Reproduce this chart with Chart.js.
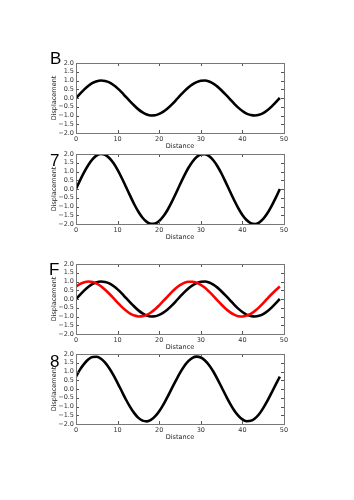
<!DOCTYPE html>
<html>
<head>
<meta charset="utf-8">
<script src="https://cdn.jsdelivr.net/npm/chart.js@4.4.0/dist/chart.umd.min.js"></script>
<style>
  html, body { margin: 0; padding: 0; background: #fff; }
  body { width: 354px; height: 500px; position: relative; overflow: hidden; }
  .panel { position: absolute; left: 0; width: 354px; }
  .letter { position: absolute; font-family: "Liberation Sans", Arial, sans-serif; font-size: 17px; color: #000; line-height: 1; }
</style>
</head>
<body>
<div class="panel" id="p1"><canvas id="c1"></canvas></div>
<div class="panel" id="p2"><canvas id="c2"></canvas></div>
<div class="panel" id="p3"><canvas id="c3"></canvas></div>
<div class="panel" id="p4"><canvas id="c4"></canvas></div>
<div class="letter" style="left:50px;top:50px;">B</div>
<div class="letter" style="left:50px;top:152px;">7</div>
<div class="letter" style="left:49px;top:261px;">F</div>
<div class="letter" style="left:50px;top:353px;">8</div>
<script>
// ---- data ----
const distance = [0,1,2,3,4,5,6,7,8,9,10,11,12,13,14,15,16,17,18,19,20,21,22,23,24,25,26,27,28,29,30,31,32,33,34,35,36,37,38,39,40,41,42,43,44,45,46,47,48,49];

const waveB = [0,0.25,0.49,0.70,0.86,0.96,1.00,0.97,0.89,0.74,0.55,0.32,0.06,-0.19,-0.43,-0.65,-0.82,-0.94,-1.00,-0.99,-0.91,-0.78,-0.60,-0.38,-0.13,0.13,0.38,0.60,0.78,0.91,0.99,1.00,0.94,0.82,0.65,0.43,0.19,-0.06,-0.32,-0.55,-0.74,-0.89,-0.97,-1.00,-0.96,-0.86,-0.70,-0.49,-0.25,0];

const wave7 = [0,0.51,0.98,1.39,1.71,1.92,2.00,1.95,1.77,1.48,1.09,0.63,0.13,-0.38,-0.87,-1.30,-1.64,-1.88,-1.99,-1.97,-1.83,-1.56,-1.20,-0.75,-0.26,0.26,0.75,1.20,1.56,1.83,1.97,1.99,1.88,1.64,1.30,0.87,0.38,-0.13,-0.63,-1.09,-1.48,-1.77,-1.95,-2.00,-1.92,-1.71,-1.39,-0.98,-0.51,0];

const waveFBlack = [0,0.25,0.49,0.70,0.86,0.96,1.00,0.97,0.89,0.74,0.55,0.32,0.06,-0.19,-0.43,-0.65,-0.82,-0.94,-1.00,-0.99,-0.91,-0.78,-0.60,-0.38,-0.13,0.13,0.38,0.60,0.78,0.91,0.99,1.00,0.94,0.82,0.65,0.43,0.19,-0.06,-0.32,-0.55,-0.74,-0.89,-0.97,-1.00,-0.96,-0.86,-0.70,-0.49,-0.25,0];

const waveFRed = [0.71,0.86,0.96,1.00,0.97,0.88,0.73,0.53,0.30,0.05,-0.21,-0.45,-0.66,-0.83,-0.94,-1.00,-0.98,-0.91,-0.77,-0.59,-0.36,-0.11,0.14,0.39,0.61,0.79,0.92,0.99,0.99,0.93,0.81,0.64,0.42,0.18,-0.08,-0.33,-0.56,-0.75,-0.89,-0.98,-1.00,-0.95,-0.85,-0.68,-0.48,-0.24,0.02,0.27,0.50,0.71];

const wave8 = [0.71,1.12,1.45,1.70,1.83,1.84,1.73,1.51,1.19,0.79,0.34,-0.13,-0.60,-1.02,-1.38,-1.65,-1.81,-1.85,-1.77,-1.57,-1.27,-0.89,-0.45,0.02,0.48,0.92,1.30,1.59,1.78,1.85,1.80,1.63,1.36,1.00,0.57,0.10,-0.37,-0.82,-1.21,-1.52,-1.74,-1.84,-1.82,-1.68,-1.44,-1.09,-0.68,-0.22,0.25,0.71];

const xTickValues = [0,10,20,30,40,50];
const yTickValues = [-2.0,-1.5,-1.0,-0.5,0.0,0.5,1.0,1.5,2.0];
const xTitle = "Distance";
const yTitle = "Displacement";

// ---- layout ----
const PLOT_LEFT = 76, PLOT_RIGHT = 284, PLOT_H = 70;
const TOP_PAD = 6, BOTTOM_H = 18;
const plotTops = [62.5, 153.5, 263.5, 353.5];

const tickFont = { family: "'DejaVu Sans', sans-serif", size: 6.5 };
const titleFont = { family: "'DejaVu Sans', sans-serif", size: 6.5 };

function pts(ys) { return distance.map((x, i) => ({ x: x, y: ys[i] })); }
function fmtY(v) { return (v < 0 ? '\u2212' : '') + Math.abs(v).toFixed(1); }

const frameTicks = {
  id: 'frameTicks',
  afterDatasetsDraw(chart) {
    const ctx = chart.ctx, a = chart.chartArea;
    const xs = chart.scales.x, ys = chart.scales.y;
    ctx.save();
    ctx.strokeStyle = '#555';
    ctx.lineWidth = 1;
    ctx.beginPath();
    xs.ticks.forEach(t => {
      const px = Math.round(xs.getPixelForValue(t.value)) + 0.5;
      ctx.moveTo(px, a.bottom); ctx.lineTo(px, a.bottom - 3);
      ctx.moveTo(px, a.top); ctx.lineTo(px, a.top + 3);
    });
    ys.ticks.forEach(t => {
      const py = Math.round(ys.getPixelForValue(t.value)) + 0.5;
      ctx.moveTo(a.left, py); ctx.lineTo(a.left + 3, py);
      ctx.moveTo(a.right, py); ctx.lineTo(a.right - 3, py);
    });
    ctx.stroke();
    ctx.strokeStyle = '#777';
    ctx.strokeRect(Math.round(a.left) + 0.5, Math.round(a.top) + 0.5, Math.round(a.right - a.left), Math.round(a.bottom - a.top));
    ctx.restore();
  }
};

function makeChart(idx, datasets) {
  const div = document.getElementById('p' + (idx + 1));
  const h = TOP_PAD + PLOT_H + BOTTOM_H;
  div.style.top = (plotTops[idx] - TOP_PAD) + 'px';
  div.style.height = h + 'px';
  new Chart(document.getElementById('c' + (idx + 1)), {
    type: 'line',
    data: { datasets: datasets },
    options: {
      responsive: true,
      maintainAspectRatio: false,
      animation: false,
      layout: { padding: { left: 44, right: 354 - PLOT_RIGHT, top: TOP_PAD, bottom: 0 } },
      plugins: { legend: { display: false }, tooltip: { enabled: false } },
      elements: { point: { radius: 0 } },
      scales: {
        x: {
          type: 'linear', min: 0, max: 50,
          afterBuildTicks(s) { s.ticks = xTickValues.map(v => ({ value: v })); },
          afterFit(s) { s.height = BOTTOM_H; },
          grid: { display: false, drawTicks: false, tickLength: 0 },
          border: { display: false },
          ticks: { font: tickFont, color: '#333', padding: 2, maxRotation: 0, autoSkip: false, callback: v => String(v) },
          title: { display: true, text: xTitle, font: titleFont, color: '#222', padding: { top: 0, bottom: 1 } }
        },
        y: {
          type: 'linear', min: -2, max: 2,
          afterBuildTicks(s) { s.ticks = yTickValues.map(v => ({ value: v })); },
          afterFit(s) { s.width = PLOT_LEFT - 44; },
          grid: { display: false, drawTicks: false, tickLength: 0 },
          border: { display: false },
          ticks: { font: tickFont, color: '#333', padding: 2, autoSkip: false, callback: v => fmtY(v) },
          title: { display: true, text: yTitle, font: titleFont, color: '#222', padding: { top: 6, bottom: 0 } }
        }
      }
    },
    plugins: [frameTicks]
  });
}

function line(ys, color, order) {
  return { data: pts(ys), borderColor: color, borderWidth: 2.6, fill: false,
           cubicInterpolationMode: 'monotone', pointRadius: 0, order: order };
}

makeChart(0, [line(waveB, '#000', 0)]);
makeChart(1, [line(wave7, '#000', 0)]);
makeChart(2, [line(waveFRed, '#ff0000', 0), line(waveFBlack, '#000', 1)]);
makeChart(3, [line(wave8, '#000', 0)]);
</script>
</body>
</html>
